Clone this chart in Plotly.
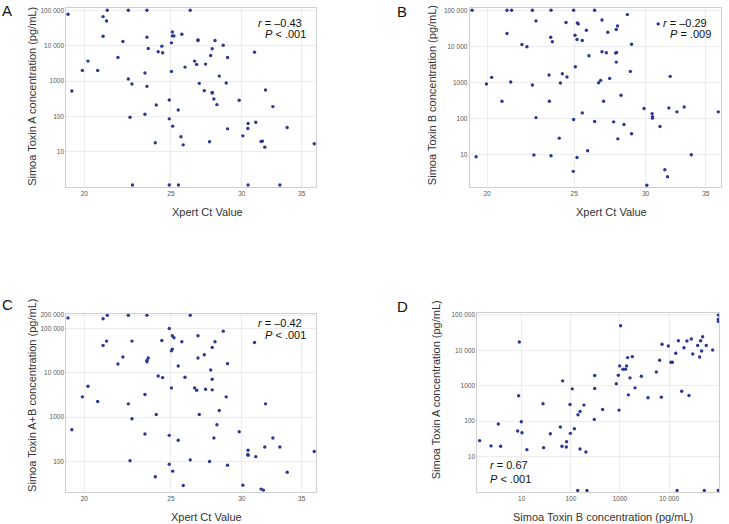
import plotly.graph_objects as go

# ---------------- data ----------------
ct_a = [21.22, 22.40, 23.50, 26.27, 19.18, 20.99, 21.18, 20.99, 22.09, 23.50, 25.09, 25.09, 25.19, 25.71,
        25.03, 26.80, 26.80, 28.00, 23.58, 24.42, 24.19, 24.47, 28.60, 27.80, 31.00, 21.81, 27.69, 28.92,
        26.57, 26.71, 27.33, 20.19, 19.90, 20.70, 25.03, 25.92, 23.38, 22.40, 22.61, 26.89, 23.50, 28.31,
        28.82, 19.37, 27.24, 27.80, 27.80, 31.89, 27.92, 28.14, 24.89, 29.80, 24.07, 25.47, 32.50, 23.38,
        22.50, 24.89, 25.11, 31.10, 30.49, 30.47, 28.92, 33.72, 30.08, 25.65, 24.01, 25.80, 27.61, 31.64,
        31.53, 31.83, 36.15, 22.64, 24.89, 25.49, 30.49, 33.09]
toxin_a = [100000, 100000, 100000, 100000, 77100, 66400, 50100, 18500, 13100, 17400, 24500, 18900, 18900,
           21100, 12000, 14600, 14000, 14000, 8320, 9680, 6700, 6290, 10300, 8150, 6560, 4640, 5280, 4640,
           3660, 2950, 3010, 3660, 2000, 2000, 1870, 2480, 1680, 1140, 823, 860, 707, 1380, 879, 523, 534,
           479, 459, 558, 311, 215, 292, 285, 211, 152, 189, 115, 94.8, 85.1, 52.9, 68.5, 62.9, 45.4, 44.4,
           48.5, 28.2, 26.5, 17.9, 15.7, 19.1, 20.0, 19.5, 13.5, 16.8, 1.15, 1.15, 1.15, 1.15, 1.15]

ct_b = [19.25, 21.05, 21.30, 22.46, 23.56, 24.96, 26.34, 22.67, 28.64, 26.84, 24.48, 25.20, 25.26, 25.79,
        27.93, 27.84, 27.24, 21.05, 25.05, 23.54, 23.64, 25.18, 25.52, 21.87, 22.15, 28.95, 30.99, 26.84,
        27.14, 27.79, 27.86, 25.96, 27.84, 25.07, 28.86, 23.44, 24.25, 24.54, 19.97, 20.24, 21.25, 22.46,
        24.13, 26.61, 26.75, 27.37, 31.96, 20.78, 23.46, 26.95, 28.18, 29.89, 30.51, 30.54, 30.54, 31.85,
        32.51, 33.12, 36.14, 22.67, 24.96, 25.52, 26.34, 27.65, 28.39, 31.13, 28.95, 24.06, 27.95, 25.87,
        19.45, 22.55, 23.56, 25.18, 33.73, 24.94, 31.52, 31.74, 30.10]
toxin_b = [100000, 100000, 100000, 100000, 100000, 100000, 100000, 50800, 75900, 54100, 45700, 44800, 42000,
           28100, 37000, 29300, 24700, 22700, 20400, 18000, 13400, 15500, 14600, 11300, 9740, 11500, 42000,
           7100, 6660, 6520, 6800, 5500, 3680, 2740, 2030, 1610, 1750, 1420, 910, 1390, 1030, 853, 969, 990,
           1150, 1300, 1480, 302, 302, 302, 443, 190, 138, 114, 103, 198, 154, 211, 154, 107, 94.3, 144, 83.1,
           81.4, 68.7, 60.5, 38.0, 28.8, 27.6, 12.9, 8.8, 9.8, 9.4, 8.4, 10, 3.47, 3.85, 2.47, 1.43]

ct_c = [21.22, 22.40, 23.50, 26.27, 19.18, 20.99, 24.89, 25.09, 25.19, 26.80, 28.60, 21.18, 22.61, 24.42,
        25.71, 28.00, 31.00, 20.99, 27.80, 25.03, 25.09, 22.09, 23.50, 23.50, 23.58, 26.80, 27.24, 28.92,
        21.81, 25.47, 27.69, 24.19, 24.47, 25.92, 27.80, 20.19, 25.03, 26.57, 26.71, 27.33, 27.80, 23.38,
        19.90, 20.70, 28.82, 22.40, 31.89, 28.31, 24.07, 26.89, 22.61, 28.14, 19.37, 23.38, 24.89, 29.80,
        27.92, 32.50, 25.47, 30.49, 30.49, 30.47, 31.83, 33.09, 31.10, 36.15, 22.50, 26.27, 27.61, 24.89,
        28.92, 25.11, 33.72, 24.01, 25.80, 30.08, 31.53, 31.72]
toxin_ab = [199000, 199000, 199000, 199000, 173000, 165000, 99800, 68300, 61600, 68300, 87000, 51900, 51900,
            53700, 50100, 50100, 48400, 41500, 37400, 31500, 34300, 22700, 19100, 17800, 21600, 21600, 25600,
            16100, 15800, 14300, 11600, 8510, 7800, 7940, 7160, 4990, 4570, 4570, 4060, 4270, 4130, 3240,
            2870, 2260, 2870, 2000, 2000, 1420, 1150, 1150, 922, 677, 522, 418, 390, 471, 340, 340, 301, 180,
            139, 144, 213, 213, 129, 168, 104, 109, 100, 87.1, 82.7, 60.7, 57.6, 45.3, 28.9, 29.4, 23.9, 22.7]

d_toxin_b = [1.40, 2.38, 3.74, 3.35, 8.29, 8.69, 8.97, 9.84, 10.16, 12.8, 27.2, 28.0, 38.3, 61.2, 66.1, 68.2,
             81.0, 82.2, 96.2, 98.0, 107, 118, 140, 154, 154, 185, 203, 306, 306, 300, 444, 842, 925, 956, 985,
             1030, 1150, 1300, 1360, 1430, 1480, 1600, 1780, 2020, 2720, 3710, 5480, 6410, 6930, 7160, 10900,
             11600, 9620, 13600, 15400, 18000, 20000, 23000, 25300, 28200, 30200, 38000, 41700, 45700, 43700,
             47900, 56900, 76700, 100000, 100000, 100000, 138, 213, 14500, 51900, 100000]
d_toxin_a = [28.2, 20.0, 19.5, 82.8, 52.6, 518, 17100, 96.3, 47.2, 15.7, 309, 17.9, 44.3, 68.2, 19.5, 1370,
             18.7, 26.4, 296, 45.3, 815, 61.2, 151, 188, 16.4, 283, 13.5, 832, 1930, 112, 214, 1130, 1970, 205,
             3610, 49100, 2910, 2910, 3610, 6190, 552, 1660, 6600, 869, 1850, 455, 2450, 5210, 475, 14700,
             4570, 4570, 13200, 8190, 18600, 700, 11800, 18200, 529, 20700, 7850, 13700, 6460, 9530, 18600,
             24100, 13700, 10200, 97900, 74000, 65000, 1.11, 1.11, 1.11, 1.11, 1.11]

ct_ticks = [20, 25, 30, 35]
ct_ticktext = ["20", "25", "30", "35"]
conc_ticks = [10, 100, 1000, 10000, 100000]
conc_ticktext = ["10", "100", "1000", "10 000", "100 000"]
ab_ticks = [100, 1000, 10000, 100000, 200000]
ab_ticktext = ["100", "1000", "10 000", "100 000", "200 000"]

panel_letters = ["A", "B", "C", "D"]
stats_r = ["<i>r</i> = –0.43", "<i>r</i> = –0.29", "<i>r</i> = –0.42", "<i>r</i> = 0.67"]
stats_p = ["<i>P</i> < .001", "<i>P</i> = .009", "<i>P</i> < .001", "<i>P</i> < .001"]

# ---------------- styling ----------------
W, H = 729, 524
FONT = "Liberation Sans, Arial, sans-serif"
DOT = "#2b3990"
GRID = "#ececec"
BOX = "#cfcfcf"
TICKF = dict(family=FONT, size=6.5, color="#555555")


def px_x(p):
    return p / W


def px_y(p):
    return 1 - p / H


fig = go.Figure()
series = [(ct_a, toxin_a, "x", "y"), (ct_b, toxin_b, "x2", "y2"),
          (ct_c, toxin_ab, "x3", "y3"), (d_toxin_b, d_toxin_a, "x4", "y4")]
for xs, ys, xa, ya in series:
    fig.add_trace(go.Scatter(x=xs, y=ys, xaxis=xa, yaxis=ya, mode="markers",
                             marker=dict(size=3.4, color=DOT), cliponaxis=False,
                             showlegend=False, hoverinfo="x+y"))


def axis(domain, rng, tv, tt, anchor):
    return dict(domain=domain, type="log", range=rng, tickvals=tv, ticktext=tt,
                showgrid=True, gridcolor=GRID, gridwidth=1, zeroline=False,
                showline=True, linecolor=BOX, linewidth=1, mirror=True,
                ticks="", tickfont=TICKF, anchor=anchor, fixedrange=True)


# panel boxes in pixels (left, right, top, bottom)
boxes = {
    "A": (66.3, 316.0, 6.0, 186.0),
    "B": (469.7, 721.0, 6.0, 186.0),
    "C": (66.3, 316.0, 312.7, 492.3),
    "D": (477.3, 719.3, 312.3, 492.0),
}


def dom_x(b):
    return [px_x(b[0]), px_x(b[1])]


def dom_y(b):
    return [px_y(b[3]), px_y(b[2])]


fig.update_layout(
    xaxis=axis(dom_x(boxes["A"]), [1.2809, 1.5601], ct_ticks, ct_ticktext, "y"),
    yaxis=axis(dom_y(boxes["A"]), [-0.005, 5.066], conc_ticks, conc_ticktext, "x"),
    xaxis2=axis(dom_x(boxes["B"]), [1.2818, 1.5610], ct_ticks, ct_ticktext, "y2"),
    yaxis2=axis(dom_y(boxes["B"]), [0.099, 5.064], conc_ticks, conc_ticktext, "x2"),
    xaxis3=axis(dom_x(boxes["C"]), [1.2809, 1.5601], ct_ticks, ct_ticktext, "y3"),
    yaxis3=axis(dom_y(boxes["C"]), [1.304, 5.337], ab_ticks, ab_ticktext, "x3"),
    xaxis4=axis(dom_x(boxes["D"]), [0.098, 5.020], conc_ticks, conc_ticktext, "y4"),
    yaxis4=axis(dom_y(boxes["D"]), [-0.002, 5.047], conc_ticks, conc_ticktext, "x4"),
)

ann = []


def text(x, y, t, size=11, angle=0, xanchor="center", color="#333333"):
    ann.append(dict(x=px_x(x), y=px_y(y), xref="paper", yref="paper", text=t, showarrow=False,
                    textangle=angle, xanchor=xanchor, yanchor="middle",
                    font=dict(family=FONT, size=size, color=color)))


# axis titles
text(31.7, 94.5, "Simoa Toxin A concentration (pg/mL)", angle=-90)
text(207.3, 210.7, "Xpert Ct Value")
text(432.7, 93.8, "Simoa Toxin B concentration (pg/mL)", angle=-90)
text(611.5, 210.7, "Xpert Ct Value")
text(31.7, 394.7, "Simoa Toxin A+B concentration (pg/mL)", angle=-90)
text(206.5, 517.0, "Xpert Ct Value")
text(436.0, 389.7, "Simoa Toxin A concentration (pg/mL)", angle=-90)
text(603.0, 517.0, "Simoa Toxin B concentration (pg/mL)")

# panel letters
for (x, y), letter in zip([(7.2, 8.7), (402.3, 9.2), (7.0, 304.0), (402.5, 306.0)], panel_letters):
    text(x, y, letter, size=15, color="#111111")

# statistics
text(304.0, 20.7, stats_r[0], xanchor="right", color="#111111")
text(308.3, 32.3, stats_p[0], xanchor="right", color="#111111")
text(709.0, 20.7, stats_r[1], xanchor="right", color="#111111")
text(712.7, 32.3, stats_p[1], xanchor="right", color="#111111")
text(304.0, 322.7, stats_r[2], xanchor="right", color="#111111")
text(308.3, 334.3, stats_p[2], xanchor="right", color="#111111")
text(488.3, 465.0, stats_r[3], xanchor="left", color="#111111")
text(488.3, 479.3, stats_p[3], xanchor="left", color="#111111")

fig.update_layout(
    width=W, height=H, margin=dict(l=0, r=0, t=0, b=0),
    paper_bgcolor="white", plot_bgcolor="white",
    separators=". ", annotations=ann, showlegend=False,
    font=dict(family=FONT, color="#333333"),
)

fig.write_html("out.html", config={"displayModeBar": False},
               post_script="document.body.style.margin='0px';document.body.style.overflow='hidden';")
